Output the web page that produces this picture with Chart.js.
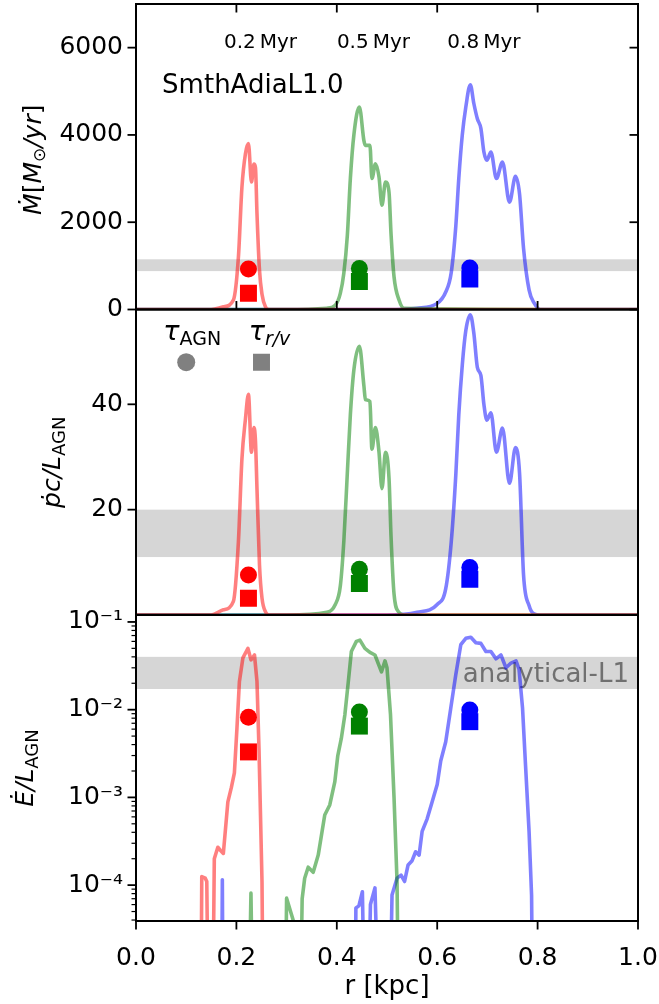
<!DOCTYPE html>
<html>
<head>
<meta charset="utf-8">
<title>SmthAdiaL1.0 radial profiles</title>
<script src="https://cdn.jsdelivr.net/npm/chart.js@4/dist/chart.umd.min.js"></script>
<style>
  body { margin: 0; background: #fff; overflow: hidden; }
  #wrap { position: relative; width: 659px; height: 1004px; }
  #wrap canvas { position: absolute; left: 0; top: 0; }
</style>
</head>
<body>
<div id="wrap">
  <canvas id="c1" width="659" height="1004"></canvas>
  <canvas id="c2" width="659" height="1004"></canvas>
  <canvas id="c3" width="659" height="1004"></canvas>
</div>
<script>
// ---- data ----
const runName = 'SmthAdiaL1.0';
const snapTimes = ['0.2\u2009Myr', '0.5\u2009Myr', '0.8\u2009Myr'];
const snapColors = ['rgba(255,0,0,0.5)', 'rgba(0,128,0,0.5)', 'rgba(0,0,255,0.5)'];
const markerColors = ['#ff0000', '#008000', '#0000ff'];

const xTicks = [0, 0.2, 0.4, 0.6, 0.8, 1.0];
const yTicks1 = [0, 2000, 4000, 6000];
const yTicks2 = [20, 40];
const yTicks3 = [1e-4, 1e-3, 1e-2, 1e-1];
const yTickLabels3 = ['10\u207B\u2074', '10\u207B\u00B3', '10\u207B\u00B2', '10\u207B\u00B9'];

// top two panels share the sampling radii
const rRed = [0, 0.15, 0.174, 0.194, 0.204, 0.211, 0.218, 0.224, 0.230, 0.235, 0.238, 0.241, 0.246, 0.251, 0.258, 0.265, 1.0];
const mdotRed = [0, 0, 60, 217, 1200, 2800, 3570, 3800, 2920, 3330, 3250, 2200, 900, 350, 60, 0, 0];
const pcRed = [0, 0, 1.0, 2.6, 13.9, 29.6, 37.2, 41.9, 30.9, 35.6, 33, 24, 9.5, 3.2, 0.6, 0, 0];

const rGreen = [0, 0.30, 0.38, 0.397, 0.407, 0.414, 0.421, 0.427, 0.434, 0.445, 0.454, 0.457, 0.466, 0.470, 0.477, 0.484, 0.490, 0.497, 0.504, 0.508, 0.514, 0.524, 0.534, 1.0];
const mdotGreen = [0, 0, 30, 100, 370, 830, 1700, 3000, 4000, 4640, 3870, 3760, 3760, 3000, 3340, 3040, 2390, 2920, 2690, 1740, 750, 217, 30, 0];
const pcGreen = [0, 0, 0.5, 2.0, 5.5, 14, 27, 38, 46.5, 51.0, 43.5, 40.9, 40.5, 31.5, 35.6, 31, 24, 30.9, 26, 15, 4, 0.5, 0, 0];

const rBlue = [0, 0.50, 0.56, 0.600, 0.617, 0.628, 0.637, 0.643, 0.650, 0.657, 0.666, 0.673, 0.680, 0.687, 0.693, 0.699, 0.707, 0.718, 0.730, 0.744, 0.756, 0.764, 0.772, 0.783, 0.793, 0.805, 1.0];
const mdotBlue = [0, 0, 30, 140, 400, 850, 1900, 3000, 4000, 4640, 5150, 4720, 4370, 4150, 3610, 3420, 3610, 3000, 3380, 2460, 3050, 2650, 1400, 450, 150, 0, 0];
const pcBlue = [0, 0, 0.5, 2.0, 5.0, 13.9, 26.5, 38, 47.5, 54, 57, 53.5, 47, 45.5, 40, 37, 38.4, 30.9, 35.5, 25, 31.8, 27, 7.6, 1.8, 0.2, 0, 0];

// bottom panel (0 = below the axis floor)
const rRedE = [0.129, 0.131, 0.138, 0.141, 0.145, 0.152, 0.156, 0.163, 0.168, 0.174, 0.183, 0.190, 0.196, 0.201, 0.206, 0.213, 0.223, 0.229, 0.236, 0.241, 0.245, 0.248, 0.251, 0.254, 0.30];
const eRed = [0, 1.25e-4, 1.2e-4, 1.1e-4, 0, 0, 2.0e-4, 2.7e-4, 2.5e-4, 2.3e-4, 8.9e-4, 1.3e-3, 1.9e-3, 6e-3, 0.021, 0.039, 0.050, 0.037, 0.042, 0.021, 3.6e-3, 6.3e-4, 1.1e-4, 0, 0];

const rGreenE = [0.220, 0.223, 0.229, 0.234, 0.296, 0.300, 0.313, 0.326, 0.331, 0.336, 0.343, 0.353, 0.363, 0.376, 0.386, 0.396, 0.402, 0.409, 0.416, 0.423, 0.429, 0.439, 0.446, 0.456, 0.466, 0.476, 0.489, 0.496, 0.500, 0.507, 0.514, 0.520, 0.524];
const eGreen = [0, 0, 8.1e-5, 0, 0, 7.1e-5, 4e-5, 0, 7e-5, 1.2e-4, 1.6e-4, 1.4e-4, 2.2e-4, 6.3e-4, 8.2e-4, 1.5e-3, 3.0e-3, 4.7e-3, 8.7e-3, 0.021, 0.046, 0.060, 0.062, 0.050, 0.045, 0.042, 0.027, 0.036, 0.030, 8.7e-3, 1.0e-3, 1.1e-4, 0];

const rBlueE = [0.170, 0.172, 0.174, 0.436, 0.438, 0.444, 0.451, 0.457, 0.461, 0.467, 0.476, 0.486, 0.504, 0.510, 0.520, 0.528, 0.535, 0.542, 0.550, 0.557, 0.564, 0.570, 0.580, 0.590, 0.600, 0.607, 0.617, 0.627, 0.637, 0.647, 0.657, 0.667, 0.677, 0.687, 0.697, 0.707, 0.717, 0.727, 0.737, 0.747, 0.757, 0.763, 0.770, 0.776, 0.783, 0.788, 0.791];
const eBlue = [0, 1.15e-4, 0, 0, 5.5e-5, 5.8e-5, 8.4e-5, 0, 0, 6e-5, 9.3e-5, 0, 0, 7.7e-5, 1.2e-4, 1.3e-4, 1.1e-4, 1.7e-4, 1.9e-4, 2.4e-4, 2.2e-4, 4.1e-4, 5.7e-4, 8.9e-4, 1.4e-3, 2.6e-3, 4.3e-3, 0.0104, 0.025, 0.055, 0.065, 0.067, 0.058, 0.057, 0.046, 0.046, 0.038, 0.042, 0.030, 0.034, 0.036, 0.029, 0.0104, 2.3e-3, 4.1e-4, 7.7e-5, 0];

// timescale markers (circle = tau_AGN, square = tau_r/v)
const markerR = [0.224, 0.445, 0.665];
const mdotTauAgn = [926, 937, 950];
const mdotTauRv = [370, 640, 700];
const pcTauAgn = [7.6, 8.7, 9.0];
const pcTauRv = [3.2, 6.0, 6.8];
const eTauAgn = [0.0082, 0.0094, 0.0099];
const eTauRv = [0.0033, 0.0065, 0.0073];
const legendR = [0.1, 0.25];
const legendY = 48;

// analytical ranges (grey bands)
const bandMdot = [880, 1150];
const bandPc = [11, 20];
const bandE = [0.0172, 0.040];

// ---- drawing helpers ----
const FONT = 'DejaVu Sans';
const rm = s => s + 'px "' + FONT + '"';
const it = s => 'italic ' + s + 'px "' + FONT + '"';
Chart.defaults.font.family = FONT;
Chart.defaults.color = '#000';

function richWidth(ctx, parts) {
  let w = 0;
  for (const p of parts) { ctx.font = p.f; w += ctx.measureText(p.t).width; }
  return w;
}
function drawRich(ctx, parts, x, y, align) {
  let cx = align === 'center' ? x - richWidth(ctx, parts) / 2 : x;
  for (const p of parts) {
    ctx.font = p.f;
    ctx.fillText(p.t, cx, y + (p.dy || 0));
    cx += ctx.measureText(p.t).width;
  }
}

const MAJ = 8.5, MIN = 4.5;
const decor = {
  id: 'decor',
  beforeDatasetsDraw(chart, args, o) {
    const { ctx, chartArea: a } = chart;
    const y = chart.scales.y;
    if (!o.band) return;
    const top = y.getPixelForValue(o.band[1]);
    const bot = y.getPixelForValue(o.band[0]);
    ctx.save();
    ctx.fillStyle = '#d6d6d6';
    ctx.fillRect(a.left, top, a.right - a.left, bot - top);
    if (o.bandLabel) {
      ctx.fillStyle = '#707070';
      ctx.font = rm(26);
      ctx.textAlign = 'right';
      ctx.textBaseline = 'alphabetic';
      ctx.fillText(o.bandLabel, a.right - 9, (top + bot) / 2 + 9);
    }
    ctx.restore();
  },
  afterDraw(chart, args, o) {
    const { ctx, chartArea: a } = chart;
    const x = chart.scales.x, y = chart.scales.y;
    const tk = (x1, y1, x2, y2) => { ctx.beginPath(); ctx.moveTo(x1, y1); ctx.lineTo(x2, y2); ctx.stroke(); };
    ctx.save();
    ctx.strokeStyle = '#000';
    ctx.lineWidth = 1.8;
    (o.leftTicks || []).forEach(v => { const p = y.getPixelForValue(v); tk(a.left - MAJ, p, a.left, p); });
    (o.rightTicks || []).forEach(v => { const p = y.getPixelForValue(v); tk(a.right - MAJ, p, a.right, p); });
    (o.topTicks || []).forEach(v => { const p = x.getPixelForValue(v); tk(p, a.top, p, a.top + MAJ); });
    (o.bottomInTicks || []).forEach(v => { const p = x.getPixelForValue(v); tk(p, a.bottom - MAJ, p, a.bottom); });
    (o.bottomOutTicks || []).forEach(v => { const p = x.getPixelForValue(v); tk(p, a.bottom, p, a.bottom + MAJ); });
    if (o.minorLeft) {
      ctx.lineWidth = 1.2;
      const e0 = Math.floor(Math.log10(y.min)), e1 = Math.ceil(Math.log10(y.max));
      for (let e = e0; e <= e1; e++) {
        for (let k = 2; k <= 9; k++) {
          const v = k * Math.pow(10, e);
          if (v < y.min || v > y.max) continue;
          const p = y.getPixelForValue(v);
          tk(a.left - MIN, p, a.left, p);
        }
      }
    }
    ctx.lineWidth = 2;
    ctx.strokeRect(a.left, a.top, a.right - a.left, a.bottom - a.top);

    ctx.fillStyle = '#000';
    ctx.textAlign = 'left';
    ctx.textBaseline = 'alphabetic';
    (o.texts || []).forEach(t => {
      ctx.fillStyle = t.color || '#000';
      drawRich(ctx, t.parts, x.getPixelForValue(t.x) + (t.dx || 0), y.getPixelForValue(t.y), t.align);
    });
    if (o.title) {
      ctx.fillStyle = '#000';
      ctx.translate(o.title.cx, (a.top + a.bottom) / 2 + (o.title.dy || 0));
      ctx.rotate(-Math.PI / 2);
      drawRich(ctx, o.title.parts, 0, 0, 'center');
    }
    ctx.restore();
  }
};

const curve = (xs, ys, color, floor) => ({
  data: xs.map((x, i) => ({ x, y: floor && ys[i] <= 0 ? floor : ys[i] })),
  borderColor: color, borderWidth: 3.6, pointRadius: 0, fill: false,
  cubicInterpolationMode: floor ? 'default' : 'monotone', tension: 0,
  borderJoinStyle: 'round', order: 2
});
const markers = (xs, ys, colors, style, radius) => ({
  data: xs.map((x, i) => ({ x, y: Array.isArray(ys) ? ys[i] : ys })),
  showLine: false, pointStyle: style, pointRadius: radius,
  pointBackgroundColor: colors, pointBorderColor: colors, pointBorderWidth: 0, order: 0
});

function yAxis(type, min, max, ticks, labelFn) {
  return {
    type, min, max,
    afterBuildTicks: s => { s.ticks = ticks.map(v => ({ value: v })); },
    afterFit: s => { s.width = 136; s.paddingTop = 0; s.paddingBottom = 0; },
    grid: { display: false, drawTicks: false },
    border: { display: false },
    ticks: { font: { size: 25 }, color: '#000', padding: 13, autoSkip: false, callback: labelFn }
  };
}
const xHidden = { type: 'linear', min: 0, max: 1, display: false };
const xBottom = {
  type: 'linear', min: 0, max: 1,
  afterBuildTicks: s => { s.ticks = xTicks.map(v => ({ value: v })); },
  afterFit: s => { s.height = 83; s.paddingLeft = 0; s.paddingRight = 0; },
  grid: { display: false, drawTicks: false },
  border: { display: false },
  ticks: { font: { size: 25 }, color: '#000', padding: 22, maxRotation: 0, autoSkip: false, callback: v => v.toFixed(1) },
  title: { display: true, text: 'r [kpc]', color: '#000', font: { size: 26 }, padding: { top: 0, bottom: 1 } }
};

function panel(id, padding, xScale, yScale, datasets, decorOpts) {
  return new Chart(document.getElementById(id), {
    type: 'line',
    data: { datasets },
    options: {
      responsive: false, animation: false, devicePixelRatio: 1, events: [],
      layout: { padding, autoPadding: false },
      plugins: { legend: { display: false }, tooltip: { enabled: false }, decor: decorOpts },
      scales: { x: xScale, y: yScale }
    },
    plugins: [decor]
  });
}

// ---- panel 1: mass outflow rate ----
panel('c1', { top: 4, bottom: 694.5, left: 0, right: 21 }, xHidden,
  yAxis('linear', 0, 7000, yTicks1, v => String(v)),
  [
    markers(markerR, mdotTauAgn, markerColors, 'circle', 8.5),
    markers(markerR, mdotTauRv, markerColors, 'rect', 12),
    curve(rRed, mdotRed, snapColors[0]),
    curve(rGreen, mdotGreen, snapColors[1]),
    curve(rBlue, mdotBlue, snapColors[2])
  ],
  {
    band: bandMdot, leftTicks: yTicks1, rightTicks: yTicks1, topTicks: xTicks, bottomInTicks: xTicks,
    texts: [
      { parts: [{ t: snapTimes[0], f: rm(20) }], x: 0.248, y: 6000, align: 'center' },
      { parts: [{ t: snapTimes[1], f: rm(20) }], x: 0.473, y: 6000, align: 'center' },
      { parts: [{ t: snapTimes[2], f: rm(20) }], x: 0.693, y: 6000, align: 'center' },
      { parts: [{ t: runName, f: rm(26) }], x: 0.052, y: 4960, align: 'left' }
    ],
    title: {
      cx: 41, dy: 3,
      parts: [{ t: '\u1E40', f: it(25) }, { t: '[', f: rm(25) }, { t: 'M', f: it(25) }, { t: '\u2299', f: rm(17), dy: 4 },
              { t: '/', f: it(25) }, { t: 'yr', f: it(25) }, { t: ']', f: rm(25) }]
    }
  });

// ---- panel 2: momentum flux ----
panel('c2', { top: 309.5, bottom: 389, left: 0, right: 21 }, xHidden,
  yAxis('linear', 0, 58, yTicks2, v => String(v)),
  [
    markers(legendR.slice(0, 1), legendY, '#808080', 'circle', 9),
    markers(legendR.slice(1), legendY, '#808080', 'rect', 12),
    markers(markerR, pcTauAgn, markerColors, 'circle', 8.5),
    markers(markerR, pcTauRv, markerColors, 'rect', 12),
    curve(rRed, pcRed, snapColors[0]),
    curve(rGreen, pcGreen, snapColors[1]),
    curve(rBlue, pcBlue, snapColors[2])
  ],
  {
    band: bandPc, leftTicks: yTicks2,
    texts: [
      { parts: [{ t: '\u03C4', f: it(27) }, { t: 'AGN', f: rm(19), dy: 5 }], x: legendR[0], dx: 6, y: 52.2, align: 'center' },
      { parts: [{ t: '\u03C4', f: it(27) }, { t: 'r/v', f: it(19), dy: 5 }], x: legendR[1], dx: 8, y: 52.2, align: 'center' }
    ],
    title: {
      cx: 60, dy: 0,
      parts: [{ t: '\u1E57c', f: it(25) }, { t: '/', f: it(25) }, { t: 'L', f: it(25) }, { t: 'AGN', f: rm(18), dy: 5 }]
    }
  });

// ---- panel 3: energy flux (log) ----
panel('c3', { top: 615, bottom: 0, left: 0, right: 21 }, xBottom,
  yAxis('logarithmic', 3.9e-5, 0.12, yTicks3, (v, i) => yTickLabels3[i]),
  [
    markers(markerR, eTauAgn, markerColors, 'circle', 8.5),
    markers(markerR, eTauRv, markerColors, 'rect', 12),
    curve(rRedE, eRed, snapColors[0], 1e-6),
    curve(rGreenE, eGreen, snapColors[1], 1e-6),
    curve(rBlueE, eBlue, snapColors[2], 1e-6)
  ],
  {
    band: bandE, bandLabel: 'analytical-L1', leftTicks: yTicks3, minorLeft: true, bottomOutTicks: xTicks,
    title: {
      cx: 33, dy: 0,
      parts: [{ t: '\u0116', f: it(25) }, { t: '/', f: it(25) }, { t: 'L', f: it(25) }, { t: 'AGN', f: rm(18), dy: 5 }]
    }
  });
</script>
</body>
</html>
